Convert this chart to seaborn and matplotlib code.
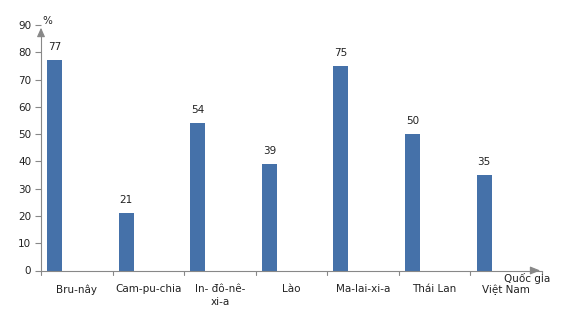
import matplotlib
matplotlib.use("Agg")
import matplotlib.pyplot as plt
import seaborn as sns
import pandas as pd
import numpy as np

countries = ["Bru-nây", "Cam-pu-chia", "In- đô-nê-\nxi-a", "Lào", "Ma-lai-xi-a", "Thái Lan", "Việt Nam"]
values = [77, 21, 54, 39, 75, 50, 35]
yticks = [0, 10, 20, 30, 40, 50, 60, 70, 80, 90]

sns.set_theme(style="white")
plt.rcParams['font.family'] = ['DejaVu Sans']

df = pd.DataFrame({"country": countries, "value": values})

fig = plt.figure(figsize=(5.73, 3.09), dpi=100)
ax = fig.add_axes([41/573, 1 - 270.5/309, (542-41)/573, (270.5-25)/309])

bar_color = "#4571A9"
sns.barplot(data=df, x="country", y="value", color=bar_color, width=0.21,
            saturation=1, ax=ax, edgecolor="none")
for p in ax.patches:
    p.set_x(p.get_x() - 0.31)

ax.bar_label(ax.containers[0], fmt="%d", padding=6, fontsize=7.5, color="#222222")

ax.set_xlim(-0.5, len(countries) - 0.5)
ax.set_ylim(0, 90)
ax.set_yticks(yticks)
ax.set_xlabel("")
ax.set_ylabel("")

ax.set_xticks(np.arange(len(countries)))
ax.set_xticklabels(countries, fontsize=7.5, color="#222222", linespacing=1.35)
ax.tick_params(axis="x", length=0, pad=10)
ax.tick_params(axis="y", length=4, width=0.8, color="#888888", labelsize=7.5,
               labelcolor="#222222", pad=3, left=True)

# boundary ticks on the x axis
for b in np.arange(len(countries) + 1) - 0.5:
    ax.plot([b, b], [0, -1.6], color="#888888", lw=0.8, clip_on=False)

for s in ["top", "right"]:
    ax.spines[s].set_visible(False)
for s in ["left", "bottom"]:
    ax.spines[s].set_color("#888888")
    ax.spines[s].set_linewidth(0.8)
ax.spines["left"].set_bounds(0, 87)

# arrows
ax.annotate("", xy=(0, 1.0), xytext=(0, 0.95), xycoords="axes fraction",
            arrowprops=dict(arrowstyle="-|>,head_length=0.45,head_width=0.2",
                            color="#888888", lw=0.8))
ax.annotate("", xy=(1.002, 0), xytext=(0.975, 0), xycoords="axes fraction",
            arrowprops=dict(arrowstyle="-|>,head_length=0.5,head_width=0.2",
                            color="#888888", lw=0.8))

fig.text(42/573, 1 - 21/309, "%", fontsize=7.5, color="#222222", va="center", ha="left")
fig.text(504/573, 1 - 278/309, "Quốc gia", fontsize=7.5, color="#222222", va="center", ha="left")

ax.set_facecolor("white")
fig.patch.set_facecolor("white")
fig.savefig("out.png", dpi=100)
